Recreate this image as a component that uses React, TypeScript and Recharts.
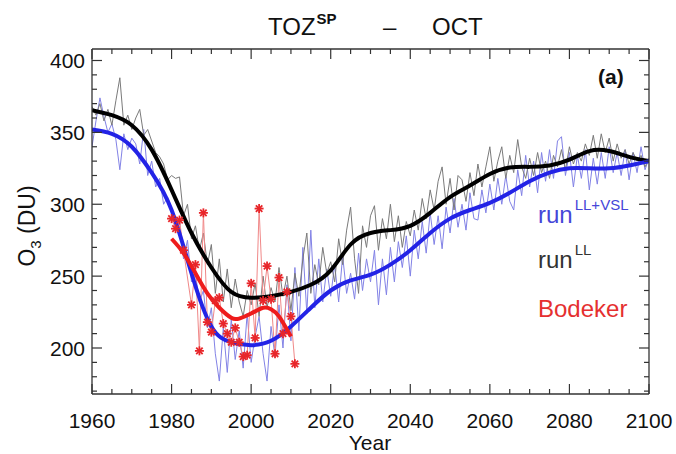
import React from "react";
import { LineChart, Line, XAxis, YAxis } from "recharts";

// annual values, 1960..2100
const firstYear = 1960;

const runLLAnnual = [
  368, 362, 370, 358, 366, 355, 372, 388, 355, 362,
  352, 360, 366, 348, 352, 344, 336, 333, 328, 317,
  320, 318, 319, 292, 300, 276, 285, 268, 280, 258,
  272, 238, 262, 232, 255, 228, 248, 232, 222, 240,
  230, 245, 222, 250, 228, 242, 232, 256, 236, 250,
  226, 252, 236, 262, 280, 238, 258, 244, 270, 252,
  260, 246, 276, 258, 282, 298, 262, 238, 285, 270,
  292, 299, 268, 290, 276, 300, 274, 292, 270, 288,
  278, 296, 282, 304, 290, 310, 296, 316, 326, 300,
  318, 296, 320, 317, 302, 322, 306, 328, 312, 326,
  340, 316, 330, 340, 318, 334, 322, 345, 326, 318,
  332, 320, 336, 322, 330, 318, 334, 326, 338, 324,
  340, 328, 336, 330, 342, 334, 348, 332, 349, 336,
  346, 330, 342, 332, 338, 328, 336, 330, 334, 326,
  332,
];

const runVSLAnnual = [
  340, 358, 374, 361, 350, 356, 345, 324, 349, 338,
  346, 342, 328, 352, 320, 330, 312, 318, 300, 305,
  296, 284, 288, 262, 275, 246, 252, 232, 240, 214,
  228, 196, 177, 214, 183, 220, 192, 212, 186, 224,
  190, 208, 222, 196, 177, 215, 194, 230, 200, 244,
  205, 256, 212, 270, 224, 282, 228, 262, 232, 255,
  236, 258, 232, 264, 238, 252, 234, 266, 240, 262,
  246, 268, 230, 262, 237, 270, 246, 274, 256, 278,
  250, 282, 262, 288, 266, 294, 272, 292, 269, 298,
  280, 304, 284, 300, 282, 308, 290, 289, 310, 294,
  314, 296, 318, 300, 320, 302, 296, 324, 306, 334,
  312, 330, 308, 336, 316, 338, 318, 344, 347, 320,
  336, 312, 334, 318, 338, 310, 332, 314, 336, 318,
  340, 322, 336, 320, 338, 317, 336, 322, 340, 324,
  332,
];

// smoothed curves, every 5 years
const smoothYears = [
  1960, 1965, 1970, 1975, 1980, 1985, 1990, 1995, 2000, 2005,
  2010, 2015, 2020, 2025, 2030, 2035, 2040, 2045, 2050, 2055,
  2060, 2065, 2070, 2075, 2080, 2085, 2090, 2095, 2100,
];
const runLLSmooth = [
  365.5, 362, 355, 338, 310, 280, 256, 239, 235, 236,
  239, 244, 254, 272, 280, 282, 285, 294, 305, 313,
  321, 325.5, 326, 327, 331, 337, 337, 333, 330,
];
const runVSLSmooth = [
  352, 349, 340, 322, 296, 252, 215, 204, 202, 205,
  215, 228, 240, 247, 251, 258, 268, 280, 290, 296,
  301, 308, 316, 322, 325, 325, 325, 327, 330,
];

// Bodeker observations
const bodekerYears = [
  1980, 1981, 1982, 1983, 1985, 1986, 1987, 1988, 1989, 1990,
  1991, 1992, 1993, 1994, 1995, 1996, 1997, 1998, 1999, 2000,
  2001, 2002, 2003, 2004, 2005, 2006, 2007, 2008, 2009, 2010, 2011,
];
const bodekerValues = [
  290, 283, 289, 268, 230, 258, 198, 294, 218, 211,
  233, 235, 217, 210, 204, 214, 204, 194, 195, 245,
  207, 297, 233, 257, 234, 196, 249, 210, 239, 222, 189,
];
const bodekerFitYears = [1980, 1983, 1986, 1989, 1992, 1995, 1997, 2000, 2003, 2005, 2007, 2010];
const bodekerFitValues = [276, 266, 252, 238, 228, 221, 220.5, 224, 228, 227, 222, 208];

const xTicks = [
  1960, 1965, 1970, 1975, 1980, 1985, 1990, 1995, 2000, 2005,
  2010, 2015, 2020, 2025, 2030, 2035, 2040, 2045, 2050, 2055,
  2060, 2065, 2070, 2075, 2080, 2085, 2090, 2095, 2100,
];
const xLabels = [1960, 1980, 2000, 2020, 2040, 2060, 2080, 2100];
const yTicks = [
  170, 180, 190, 200, 210, 220, 230, 240, 250, 260, 270, 280,
  290, 300, 310, 320, 330, 340, 350, 360, 370, 380, 390, 400,
];
const yLabels = [200, 250, 300, 350, 400];

const rows = runLLAnnual.map((v, i) => {
  const year = firstYear + i;
  const row: any = { year, runLL: v, runVSL: runVSLAnnual[i] };
  const s = smoothYears.indexOf(year);
  if (s >= 0) {
    row.runLLSmooth = runLLSmooth[s];
    row.runVSLSmooth = runVSLSmooth[s];
  }
  const b = bodekerYears.indexOf(year);
  if (b >= 0) row.bodeker = bodekerValues[b];
  const f = bodekerFitYears.indexOf(year);
  if (f >= 0) row.bodekerFit = bodekerFitValues[f];
  return row;
});

const FRAME = "#333";
const FONT = "'Liberation Sans', Arial, sans-serif";

const BottomTick = (props: any) => {
  const { x, y, payload } = props;
  const major = xLabels.includes(payload.value);
  return (
    <g>
      <line x1={x} y1={y} x2={x} y2={y - (major ? 10 : 5)} stroke={FRAME} strokeWidth={1.2} />
      {major && (
        <text x={x} y={y + 34} textAnchor="middle" fontSize={21} fontFamily={FONT} fill="#111">
          {payload.value}
        </text>
      )}
    </g>
  );
};

const TopTick = (props: any) => {
  const { x, y, payload } = props;
  const major = xLabels.includes(payload.value);
  return <line x1={x} y1={y} x2={x} y2={y + (major ? 10 : 5)} stroke={FRAME} strokeWidth={1.2} />;
};

const LeftTick = (props: any) => {
  const { x, y, payload } = props;
  const major = yLabels.includes(payload.value);
  return (
    <g>
      <line x1={x} y1={y} x2={x + (major ? 10 : 5)} y2={y} stroke={FRAME} strokeWidth={1.2} />
      {major && (
        <text x={x - 7} y={y + 7.5} textAnchor="end" fontSize={21} fontFamily={FONT} fill="#111">
          {payload.value}
        </text>
      )}
    </g>
  );
};

const RightTick = (props: any) => {
  const { x, y, payload } = props;
  const major = yLabels.includes(payload.value);
  return <line x1={x} y1={y} x2={x - (major ? 10 : 5)} y2={y} stroke={FRAME} strokeWidth={1.2} />;
};

const Asterisk = (props: any) => {
  const { cx, cy } = props;
  if (cx == null || cy == null) return <g />;
  const r = 4.5;
  const d = r * 0.72;
  return (
    <g stroke="#e8262a" strokeWidth={1.8}>
      <line x1={cx - r} y1={cy} x2={cx + r} y2={cy} />
      <line x1={cx} y1={cy - r} x2={cx} y2={cy + r} />
      <line x1={cx - d} y1={cy - d} x2={cx + d} y2={cy + d} />
      <line x1={cx - d} y1={cy + d} x2={cx + d} y2={cy - d} />
    </g>
  );
};

export default function App() {
  return (
    <div style={{ position: "absolute", left: 0, top: 0, width: 676, height: 454, background: "#fff" }}>
      <LineChart width={676} height={454} data={rows} margin={{ top: 48, right: 26, bottom: 0, left: 0 }}>
        <XAxis
          dataKey="year"
          type="number"
          domain={[1960, 2100]}
          allowDataOverflow
          ticks={xTicks}
          interval={0}
          height={60}
          tickSize={0}
          tickMargin={0}
          tickLine={false}
          tick={BottomTick}
          axisLine={{ stroke: FRAME, strokeWidth: 1.3 }}
        />
        <XAxis
          xAxisId="top"
          orientation="top"
          dataKey="year"
          type="number"
          domain={[1960, 2100]}
          allowDataOverflow
          ticks={xTicks}
          interval={0}
          height={1}
          tickSize={0}
          tickMargin={0}
          tickLine={false}
          tick={TopTick}
          axisLine={{ stroke: FRAME, strokeWidth: 1.3 }}
        />
        <YAxis
          type="number"
          domain={[168, 408]}
          allowDataOverflow
          ticks={yTicks}
          interval={0}
          width={92}
          tickSize={0}
          tickMargin={0}
          tickLine={false}
          tick={LeftTick}
          axisLine={{ stroke: FRAME, strokeWidth: 1.3 }}
        />
        <YAxis
          yAxisId="right"
          orientation="right"
          type="number"
          domain={[168, 408]}
          allowDataOverflow
          ticks={yTicks}
          interval={0}
          width={1}
          tickSize={0}
          tickMargin={0}
          tickLine={false}
          tick={RightTick}
          axisLine={{ stroke: FRAME, strokeWidth: 1.3 }}
        />
        <Line
          xAxisId="top"
          yAxisId="right"
          dataKey="runVSL"
          type="linear"
          stroke="#8282e6"
          strokeWidth={1}
          dot={false}
          activeDot={false}
          isAnimationActive={false}
        />
        <Line
          dataKey="runLL"
          type="linear"
          stroke="#7a7a7a"
          strokeWidth={1}
          dot={false}
          activeDot={false}
          isAnimationActive={false}
        />
        <Line
          dataKey="bodeker"
          type="linear"
          stroke="#f08888"
          strokeWidth={1}
          connectNulls
          dot={Asterisk}
          activeDot={false}
          isAnimationActive={false}
        />
        <Line
          dataKey="runLLSmooth"
          type="natural"
          stroke="#000"
          strokeWidth={4}
          connectNulls
          dot={false}
          activeDot={false}
          isAnimationActive={false}
        />
        <Line
          dataKey="runVSLSmooth"
          type="natural"
          stroke="#2323e6"
          strokeWidth={4}
          connectNulls
          dot={false}
          activeDot={false}
          isAnimationActive={false}
        />
        <Line
          dataKey="bodekerFit"
          type="natural"
          stroke="#ee1c1c"
          strokeWidth={4}
          connectNulls
          dot={false}
          activeDot={false}
          isAnimationActive={false}
        />
      </LineChart>
      <svg
        width={676}
        height={454}
        style={{ position: "absolute", left: 0, top: 0, pointerEvents: "none" }}
        fontFamily={FONT}
      >
        <text y={35} fontSize={24} fill="#111">
          <tspan x={268}>TOZ</tspan>
          <tspan dx={1} dy={-11} fontSize={15} fontWeight="bold">SP</tspan>
          <tspan x={383} dy={11}>–</tspan>
          <tspan x={432}>OCT</tspan>
        </text>
        <text x={598} y={84} fontSize={21} fontWeight="bold" fill="#111">(a)</text>
        <text x={370} y={450} textAnchor="middle" fontSize={21} fill="#111">Year</text>
        <text transform="translate(35,226) rotate(-90)" textAnchor="middle" fontSize={23} fill="#111">
          O<tspan dy={6} fontSize={15}>3</tspan>
          <tspan dy={-6}> (DU)</tspan>
        </text>
        <text y={223} fontSize={24} fill="#4646d8">
          <tspan x={538}>run</tspan>
          <tspan dx={2} dy={-13} fontSize={15}>LL+VSL</tspan>
        </text>
        <text y={268} fontSize={24} fill="#333">
          <tspan x={538}>run</tspan>
          <tspan dx={2} dy={-13} fontSize={15}>LL</tspan>
        </text>
        <text x={538} y={317} fontSize={24} fill="#e53030">Bodeker</text>
      </svg>
    </div>
  );
}
